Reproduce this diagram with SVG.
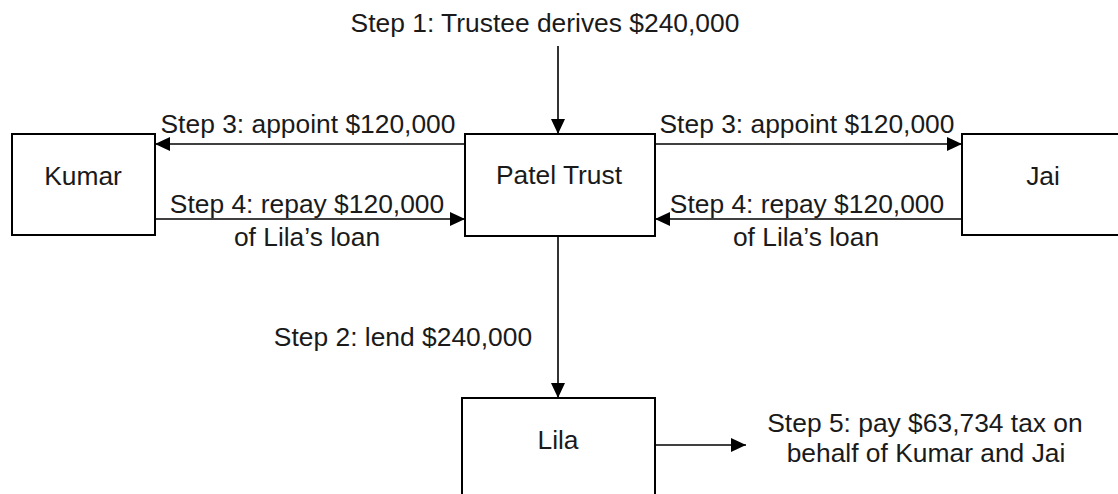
<svg xmlns="http://www.w3.org/2000/svg" width="1118" height="494" viewBox="0 0 1118 494">
<style>
.box{fill:#fff;stroke:#000;stroke-width:2}
.ln{fill:none;stroke:#000;stroke-width:1.6}
text{font-family:"Liberation Sans",Arial,sans-serif;font-size:26.4px;fill:#1a1a1a;text-anchor:middle}
</style>
<defs>
<marker id="ah" markerUnits="userSpaceOnUse" markerWidth="16" markerHeight="14" refX="15" refY="7" orient="auto">
<path d="M0,0 L15,7 L0,14 Z" fill="#000"/>
</marker>
</defs>
<rect width="1118" height="494" fill="#fff"/>
<g id="connectors">
<line class="ln" x1="558" y1="46" x2="558" y2="134" marker-end="url(#ah)"/>
<line class="ln" x1="465" y1="144" x2="155" y2="144" marker-end="url(#ah)"/>
<line class="ln" x1="655" y1="144" x2="962" y2="144" marker-end="url(#ah)"/>
<line class="ln" x1="155" y1="219" x2="465" y2="219" marker-end="url(#ah)"/>
<line class="ln" x1="962" y1="219" x2="655" y2="219" marker-end="url(#ah)"/>
<line class="ln" x1="558" y1="236" x2="558" y2="398" marker-end="url(#ah)"/>
<line class="ln" x1="655" y1="445" x2="746" y2="445" marker-end="url(#ah)"/>
<text x="545" y="32">Step 1: Trustee derives $240,000</text>
<text x="308" y="133">Step 3: appoint $120,000</text>
<text x="807" y="133">Step 3: appoint $120,000</text>
<text x="307" y="213">Step 4: repay $120,000</text>
<text x="307" y="246">of Lila’s loan</text>
<text x="807" y="213">Step 4: repay $120,000</text>
<text x="806" y="246">of Lila’s loan</text>
<text x="403" y="346">Step 2: lend $240,000</text>
<text x="925" y="432">Step 5: pay $63,734 tax on</text>
<text x="926" y="462">behalf of Kumar and Jai</text>
</g>
<g id="kumar"><rect class="box" x="12" y="134" width="143" height="101"/><text x="83" y="185">Kumar</text></g>
<g id="patel"><rect class="box" x="465" y="134" width="190" height="102"/><text x="559" y="184">Patel Trust</text></g>
<g id="jai"><rect class="box" x="962" y="134" width="170" height="101"/><text x="1043" y="185">Jai</text></g>
<g id="lila"><rect class="box" x="462" y="398" width="193" height="110"/><text x="558" y="449">Lila</text></g>
</svg>
